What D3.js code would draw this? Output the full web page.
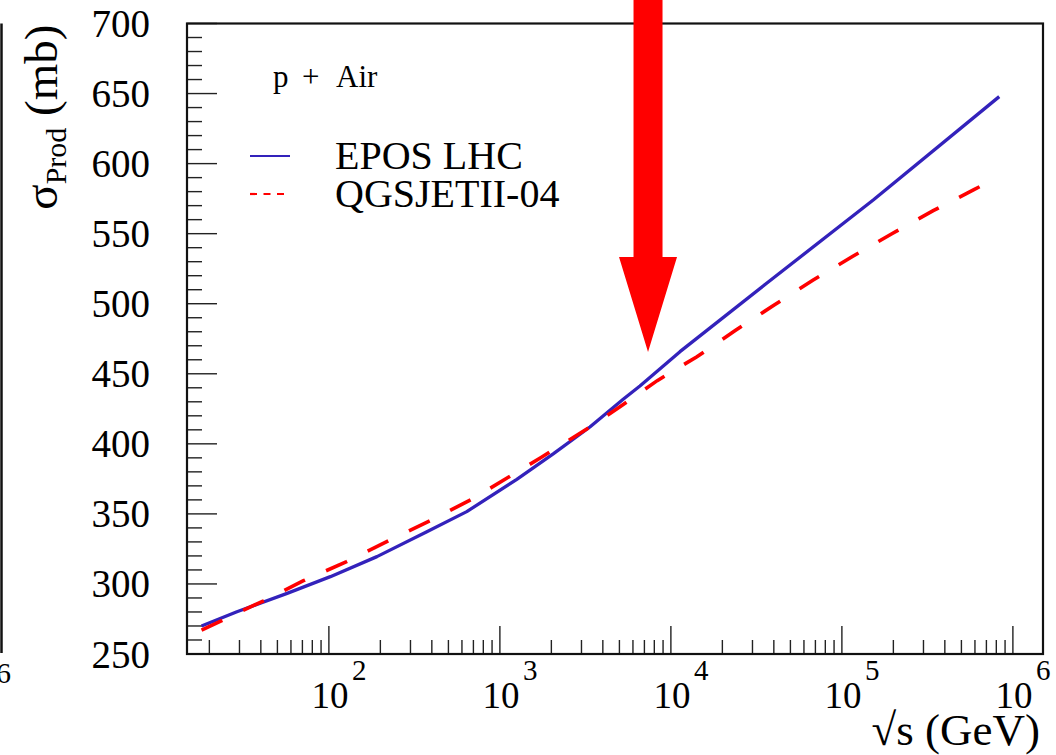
<!DOCTYPE html>
<html>
<head>
<meta charset="utf-8">
<script src="https://cdn.jsdelivr.net/npm/d3@7"></script>
<style>
  html, body { margin: 0; padding: 0; background: #fff; }
  svg { display: block; }
</style>
</head>
<body>
<div id="chart"></div>
<script>
// ---------------- data ----------------
const eposEnergy = [18, 29, 57, 102, 191, 374, 640, 1256, 2050, 3360, 5260, 6590, 11300, 36300, 152500, 832000];
const eposSigma  = [270.0, 280.2, 293.3, 305.2, 319.5, 337.3, 351.6, 374.7, 392.8, 412.0, 431.8, 441.3, 465.8, 514.6, 574.0, 647.8];

const qgsEnergy = [18, 41.5, 71, 127, 218, 391, 701, 1150, 1750, 3360, 5040, 8320, 14200, 23900, 40200, 67600, 115900, 199500, 342000, 591600, 679000];
const qgsSigma  = [267.0, 288.0, 302.3, 315.9, 330.2, 345.1, 361.1, 377.0, 390.4, 412.0, 426.5, 445.1, 462.2, 481.0, 499.1, 516.7, 533.9, 550.5, 566.4, 581.4, 585.2];

const seriesNames = ["EPOS LHC", "QGSJETII-04"];
const systemLabel = "p + Air";
const yTickValues = [250, 300, 350, 400, 450, 500, 550, 600, 650, 700];
const xMajorExponents = [2, 3, 4, 5, 6];
const xDomain = [14.8, 1.5e6];
const yDomain = [250, 700];
const arrowEnergy = 7350;   // annotation arrow points at this sqrt(s)
const arrowTipSigma = 465.5;

// ---------------- layout ----------------
const W = 1056, H = 755;
const L = 187, R = 1043, T = 23.5, B = 654;
const FONT = '"Liberation Serif", "DejaVu Serif", "Times New Roman", serif';

const svg = d3.select("#chart").append("svg").attr("width", W).attr("height", H)
  .attr("font-family", FONT).style("font-family", FONT);

const x = d3.scaleLog().domain(xDomain).range([L, R]);
const y = d3.scaleLinear().domain(yDomain).range([B, T]);

function txt(sel) { return sel.attr("font-family", FONT).style("font-family", FONT).attr("fill", "#000"); }

// remnant of neighbouring panel at the left edge
svg.append("line").attr("x1", 1.5).attr("x2", 1.5).attr("y1", T).attr("y2", B - 1)
  .attr("stroke", "#111").attr("stroke-width", 2.5);
txt(svg.append("text")).attr("x", -4).attr("y", 683).attr("font-size", 30).text("6");

// y ticks (minor every 10, major every 50)
const yMinor = d3.range(yDomain[0], yDomain[1] + 0.1, 10);
svg.append("g").selectAll("line").data(yMinor).join("line")
  .attr("x1", L).attr("x2", d => L + (d % 50 === 0 ? 30 : 15))
  .attr("y1", d => y(d)).attr("y2", d => y(d))
  .attr("stroke", "#222").attr("stroke-width", 1.4);

txt(svg.append("g").selectAll("text").data(yTickValues).join("text"))
  .attr("x", 150).attr("y", d => y(d) + 13.5)
  .attr("text-anchor", "end").attr("font-size", 39)
  .text(d => d);

// x ticks
const xMinor = [];
for (let e = 1; e <= 6; e++) {
  for (let k = 2; k <= 9; k++) {
    const v = k * Math.pow(10, e);
    if (v >= xDomain[0] && v <= xDomain[1]) xMinor.push(v);
  }
}
const xMajor = xMajorExponents.map(e => Math.pow(10, e));
svg.append("g").selectAll("line").data(xMinor).join("line")
  .attr("x1", d => x(d)).attr("x2", d => x(d))
  .attr("y1", B).attr("y2", B - 14)
  .attr("stroke", "#222").attr("stroke-width", 1.4);
svg.append("g").selectAll("line").data(xMajor).join("line")
  .attr("x1", d => x(d)).attr("x2", d => x(d))
  .attr("y1", B).attr("y2", B - 28)
  .attr("stroke", "#222").attr("stroke-width", 1.4);

const xl = svg.append("g").selectAll("g").data(xMajorExponents).join("g");
txt(xl.append("text")).attr("x", d => x(Math.pow(10, d)) + 1).attr("y", 708)
  .attr("text-anchor", "middle").attr("font-size", 37).text("10");
txt(xl.append("text")).attr("x", d => x(Math.pow(10, d)) + 23).attr("y", 680)
  .attr("text-anchor", "start").attr("font-size", 29).text(d => d);

// frame
svg.append("rect").attr("x", L).attr("y", T).attr("width", R - L).attr("height", B - T)
  .attr("fill", "none").attr("stroke", "#111").attr("stroke-width", 2.2);

// axis titles
txt(svg.append("text")).attr("x", 1040).attr("y", 745)
  .attr("text-anchor", "end").attr("font-size", 45).text("\u221As (GeV)");

const yt = txt(svg.append("text")).attr("transform", `translate(57,${T + 1}) rotate(-90)`)
  .attr("text-anchor", "end").attr("font-size", 47);
yt.append("tspan").text("\u03C3");
yt.append("tspan").attr("font-size", 30).attr("dy", 9).text("Prod");
yt.append("tspan").attr("dy", -9).text(" (mb)");

// curves
const line = d3.line().x(d => x(d[0])).y(d => y(d[1]));
const epos = eposEnergy.map((e, i) => [e, eposSigma[i]]);
const qgs = qgsEnergy.map((e, i) => [e, qgsSigma[i]]);

svg.append("path").datum(epos).attr("d", line)
  .attr("fill", "none").attr("stroke", "#3322bb").attr("stroke-width", 3.3)
  .attr("stroke-linejoin", "round");
svg.append("path").datum(qgs).attr("d", line)
  .attr("fill", "none").attr("stroke", "#ff0000").attr("stroke-width", 3.6)
  .attr("stroke-dasharray", "23,23");

// legend
const parts = systemLabel.split(" ");
const sl = txt(svg.append("text")).attr("y", 87).attr("font-size", 31);
sl.append("tspan").attr("x", 273).text(parts[0]);
sl.append("tspan").attr("x", 302).text(parts[1]);
sl.append("tspan").attr("x", 336).text(parts[2]);

svg.append("line").attr("x1", 250).attr("x2", 290).attr("y1", 156).attr("y2", 156)
  .attr("stroke", "#3322bb").attr("stroke-width", 2.2);
svg.append("line").attr("x1", 250).attr("x2", 290).attr("y1", 194).attr("y2", 194)
  .attr("stroke", "#ff0000").attr("stroke-width", 2.2).attr("stroke-dasharray", "7,6.5");
txt(svg.append("text")).attr("x", 335).attr("y", 169).attr("font-size", 40).text(seriesNames[0]);
txt(svg.append("text")).attr("x", 335).attr("y", 207).attr("font-size", 40).text(seriesNames[1]);

// red annotation arrow
const ax = x(arrowEnergy), ay = y(arrowTipSigma);
const headLen = 95, headHalf = 29, shaftHalf = 14.5;
svg.append("path")
  .attr("d", `M${ax - shaftHalf},-5 L${ax + shaftHalf},-5 L${ax + shaftHalf},${ay - headLen}
    L${ax + headHalf},${ay - headLen} L${ax},${ay} L${ax - headHalf},${ay - headLen}
    L${ax - shaftHalf},${ay - headLen} Z`)
  .attr("fill", "#ff0000");
</script>
</body>
</html>
